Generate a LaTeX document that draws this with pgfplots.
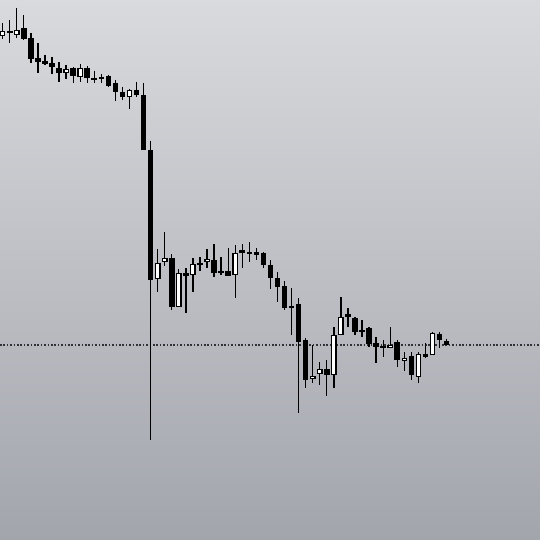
\documentclass[border=0pt]{standalone}
\usepackage{pgfplots}
\usepackage{pgfplotstable}
\pgfplotsset{compat=1.18}

\definecolor{bgtop}{HTML}{D9DADD}
\definecolor{bgbot}{HTML}{A3A5AD}
\definecolor{refline}{HTML}{303134}

% candle index, high, low, body top, body bottom (pixel rows, 0 = top), white flag
\pgfplotstableread{
i  hi  lo  top   bot   w
0  23  39  31    36    1
1  20  43  31    33.5  0
2  8   38  30    35    1
3  15  40  28    39    0
4  33  63  38    59    0
5  43  73  58    62    0
6  55  65  61.5  64    0
7  57  74  63    67    0
8  62  82  68    73    0
9  65  79  69    73    1
10 67  83  68    76    0
11 64  82  68    77    1
12 66  83  68    78    0
13 71  83  78    80    0
14 74  83  77    79    0
15 75  87  76    86    0
16 80  101 83    92    0
17 87  100 92    97    0
18 89  109 90    97    1
19 82  97  90    95    0
20 83  150 95    150   0
21 141 440 150   280   0
22 249 292 263   279   1
23 232 266 258   262   1
24 254 310 258   307   0
25 269 307 273   307   1
26 268 313 273   276   0
27 258 292 264   275   1
28 257 271 262.5 265   0
29 249 268 259   262   1
30 244 277 260   273   0
31 257 275 271   273   0
32 248 276 271   276   0
33 245 298 253   275   1
34 244 268 250   253   0
35 242 262 252   254   0
36 248 260 252   255   0
37 252 268 253   265   0
38 260 289 265   278   0
39 272 302 278   287   0
40 281 310 286   308   0
41 288 335 305.5 307.5 0
42 298 413 304   342   0
43 338 388 340   380   0
44 345 383 375.5 379   1
45 362 385 369   374   1
46 360 396 369   375   0
47 327 388 335   375   1
48 297 335 317   335   1
49 308 327 314   317   0
50 317 335 318   332   0
51 320 337 330   332   0
52 327 347 328   344   0
53 337 363 343   347   0
54 340 357 346   348   0
55 327 348 345   348   1
56 340 367 342   360   0
57 352 371 357.5 360.5 1
58 352 380 356   375   0
59 352 383 354   377   1
60 343 358 354   357   0
61 332 355 333   355   1
62 332 348 334   340   0
63 339 345 341   345   0
}\candles

\begin{document}
\begin{tikzpicture}
\begin{axis}[
  scale only axis, width=540bp, height=540bp,
  hide axis, clip=true,
  xmin=-0.383, xmax=76.26,
  ymin=0, ymax=540, y dir=reverse,
]
% background
\fill[top color=bgtop, bottom color=bgbot, draw=none]
  (rel axis cs:0,0) rectangle (rel axis cs:1,1);

% reference level
\addplot[refline, line width=1.3bp, dash pattern=on 1.5bp off 1.9bp, forget plot]
  coordinates {(-0.383,345) (76.26,345)};

% wicks
\addplot[draw=none, mark=none, forget plot,
  error bars/.cd, y dir=plus, y explicit, error mark=none,
  error bar style={draw=black, line width=1.3bp}]
  table[x=i, y=hi, y error expr=\thisrow{lo}-\thisrow{hi}] {\candles};

% bodies
\addplot[draw=none, mark=none, forget plot,
  error bars/.cd, y dir=plus, y explicit, error mark=none,
  error bar style={draw=black, line width=5.6bp, line cap=butt}]
  table[x=i, y=top, y error expr=\thisrow{bot}-\thisrow{top}] {\candles};

% hollow (rising) bodies
\addplot[draw=none, mark=none, forget plot,
  restrict expr to domain={\thisrow{w}}{0.5:1.5},
  error bars/.cd, y dir=plus, y explicit, error mark=none,
  error bar style={draw=white, line width=3bp, line cap=butt}]
  table[x=i, y expr=\thisrow{top}+1.3, y error expr=\thisrow{bot}-\thisrow{top}-2.6] {\candles};
\end{axis}
\end{tikzpicture}
\end{document}
